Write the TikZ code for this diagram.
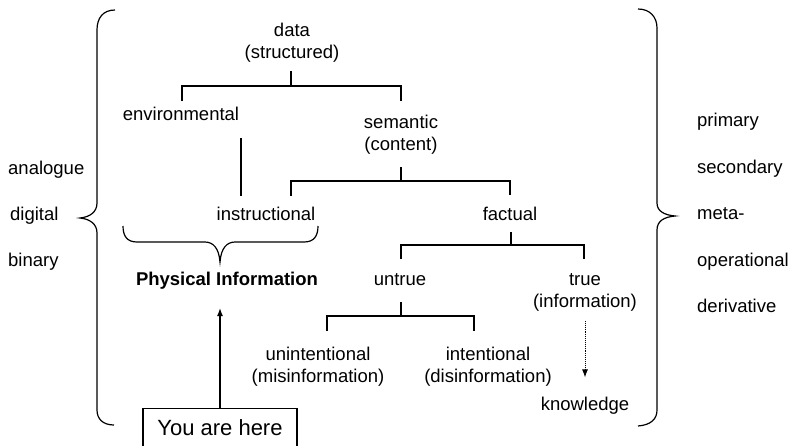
\documentclass[tikz,border=0pt]{standalone}
\usepackage{fontspec}
\setmainfont{Liberation Sans}
\usetikzlibrary{arrows.meta}
\begin{document}
\begin{tikzpicture}[x=1pt,y=-1pt,
  lbl/.style={font=\fontsize{18.5}{22}\selectfont, inner sep=0pt, align=center, anchor=base},
  side/.style={font=\fontsize{18.5}{22}\selectfont, inner sep=0pt, anchor=base west},
  ln/.style={line width=1.2pt, black},
  tip/.style={-{Latex[length=8pt,width=6pt]}}]
\clip (0,0) rectangle (793,445);
% tree labels (anchor base = baseline of the last line)
\node[lbl] (data) at (292,58) {data\\(structured)};
\node[lbl] (env) at (181,120) {environmental};
\node[lbl] (sem) at (401,150) {semantic\\(content)};
\node[lbl] (instr) at (266,220) {instructional};
\node[lbl] (fact) at (510,220) {factual};
\node[lbl] (untrue) at (400,285) {untrue};
\node[lbl] (true) at (585,307) {true\\(information)};
\node[lbl] (unint) at (318,382) {unintentional\\(misinformation)};
\node[lbl] (intent) at (488,382) {intentional\\(disinformation)};
\node[lbl] (know) at (585,410) {knowledge};
\node[lbl, font=\fontsize{18.5}{22}\selectfont\bfseries] (phys) at (227,285) {Physical Information};
\node[draw, ln, anchor=north, minimum width=154pt, inner xsep=0pt, inner ysep=11pt,
  text height=16pt, text depth=5pt, font=\fontsize{22}{26}\selectfont] (here) at (220,408) {You are here};
% side labels
\node[side] (ana) at (8,174) {analogue};
\node[side] (dig) at (10,220) {digital};
\node[side] (bin) at (8,266) {binary};
\node[side] (prim) at (697,126) {primary};
\node[side] (sec) at (697,173) {secondary};
\node[side] (meta) at (697,219) {meta-};
\node[side] (oper) at (697,266) {operational};
\node[side] (deriv) at (697,312) {derivative};
% junction coordinates
\coordinate (d0) at (291,71);
\coordinate (d1) at (291,86);
\coordinate (dl) at (182,86);
\coordinate (dr) at (401,86);
\coordinate (e0) at (241,138);
\coordinate (e1) at (241,196);
\coordinate (s0) at (401,167);
\coordinate (s1) at (401,181);
\coordinate (sl) at (291,181);
\coordinate (sr) at (510,181);
\coordinate (f0) at (511,232);
\coordinate (f1) at (511,245);
\coordinate (fl) at (401,245);
\coordinate (fr) at (584,245);
\coordinate (u0) at (401,302);
\coordinate (u1) at (401,316);
\coordinate (ul) at (327,316);
\coordinate (ur) at (474,316);
% tree connectors
\draw[ln] (d0) -- (d1);
\draw[ln] ([yshift=-15pt]dl) -- (dl) -- (dr) -- ([yshift=-15pt]dr);
\draw[ln] (e0) -- (e1);
\draw[ln] (s0) -- (s1);
\draw[ln] ([yshift=-15pt]sl) -- (sl) -- (sr) -- ([yshift=-14pt]sr);
\draw[ln] (f0) -- (f1);
\draw[ln] ([yshift=-14pt]fl) -- (fl) -- (fr) -- ([yshift=-14pt]fr);
\draw[ln] (u0) -- (u1);
\draw[ln] ([yshift=-15pt]ul) -- (ul) -- (ur) -- ([yshift=-15pt]ur);
% arrows
\draw[ln, tip, shorten >=19pt] (here.north) -- (here.north |- phys.south);
\draw[line width=0.9pt, densely dotted, tip, shorten <=10pt, shorten >=19pt] (true.south) -- (true.south |- know.north);
% braces
\draw[ln] (115,10) .. controls (103,10) and (97,18) .. (97,30) -- (97,203)
  .. controls (97,212) and (90,217) .. (80,218)
  .. controls (90,219) and (97,224) .. (97,233) -- (97,410)
  .. controls (97,419) and (103,425) .. (114,425);
\draw[ln] (638,9) .. controls (650,9) and (657,17) .. (657,28) -- (657,203)
  .. controls (657,211) and (664,215) .. (675,216)
  .. controls (664,217) and (657,221) .. (657,230) -- (657,410)
  .. controls (657,419) and (651,425) .. (638,426);
\draw[ln] (123,226) .. controls (123,236) and (127,242) .. (137,242) -- (205,242)
  .. controls (213,242) and (219,248) .. (220,262)
  .. controls (221,248) and (227,242) .. (235,242) -- (304,242)
  .. controls (314,242) and (318,236) .. (318,226);
\end{tikzpicture}
\end{document}
